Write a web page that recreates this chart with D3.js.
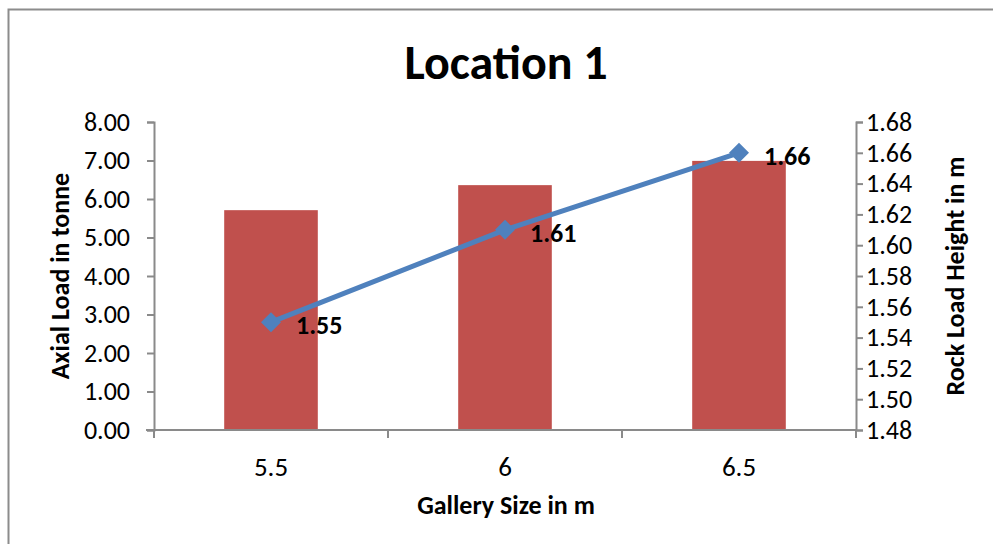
<!DOCTYPE html>
<html>
<head>
<meta charset="utf-8">
<script src="https://cdn.jsdelivr.net/npm/d3@7"></script>
<style>
  html, body { margin: 0; padding: 0; background: #ffffff; }
  svg { display: block; }
  text { font-family: Carlito, Lato, "Open Sans", sans-serif; fill: #000; }
</style>
</head>
<body>
<script>
// Gallery sizes and the two measured series
const categories = ["5.5", "6", "6.5"];
const axialLoad = [5.71, 6.36, 6.99];          // tonne, bars on left axis
const rockLoadHeight = [1.55, 1.61, 1.66];     // m, line on right axis
const leftTicks = [0, 1, 2, 3, 4, 5, 6, 7, 8];
const rightTicks = [1.48, 1.50, 1.52, 1.54, 1.56, 1.58, 1.60, 1.62, 1.64, 1.66, 1.68];

const W = 993, H = 544;
const plot = { left: 154, right: 856, top: 122, bottom: 430 };
const axisColor = "#8a8a8a";

const svg = d3.select("body").append("svg")
  .attr("width", W).attr("height", H);

// chart frame
svg.append("rect")
  .attr("x", 8.5).attr("y", 9.5)
  .attr("width", W + 20).attr("height", H + 20)
  .attr("fill", "#fff")
  .attr("stroke", "#8c8c8c").attr("stroke-width", 2);

const x = d3.scaleBand()
  .domain(categories)
  .range([plot.left, plot.right])
  .paddingInner(0.6)
  .paddingOuter(0.3);

const yLeft = d3.scaleLinear().domain([0, 8]).range([plot.bottom, plot.top]);
const yRight = d3.scaleLinear().domain([1.48, 1.68]).range([plot.bottom, plot.top]);
const fmt = d3.format(".2f");

// bars
svg.append("g").selectAll("rect")
  .data(categories)
  .join("rect")
  .attr("x", d => x(d))
  .attr("width", x.bandwidth())
  .attr("y", (d, i) => yLeft(axialLoad[i]))
  .attr("height", (d, i) => yLeft(0) - yLeft(axialLoad[i]))
  .attr("fill", "#C0504D");

// left axis
const gL = svg.append("g")
  .attr("transform", `translate(${plot.left},0)`)
  .call(d3.axisLeft(yLeft).tickValues(leftTicks).tickFormat(fmt).tickSizeOuter(0).tickSize(7).tickPadding(17));
// right axis
const gR = svg.append("g")
  .attr("transform", `translate(${plot.right},0)`)
  .call(d3.axisRight(yRight).tickValues(rightTicks).tickFormat(fmt).tickSizeOuter(0).tickSize(7).tickPadding(3));

[gL, gR].forEach(g => {
  g.select(".domain").attr("stroke", axisColor).attr("stroke-width", 2);
  g.selectAll(".tick line").attr("stroke", axisColor).attr("stroke-width", 2);
  g.selectAll(".tick text").attr("font-size", 26).attr("font-family", "Carlito, Lato, sans-serif").attr("fill", "#000");
});

// bottom axis: ticks sit on the category boundaries
const step = x.step();
const boundaries = d3.range(categories.length + 1).map(i => plot.left + i * step);
const gB = svg.append("g");
gB.append("line")
  .attr("x1", plot.left - 8).attr("x2", plot.right)
  .attr("y1", plot.bottom).attr("y2", plot.bottom)
  .attr("stroke", axisColor).attr("stroke-width", 2);
gB.selectAll("line.tk")
  .data(boundaries)
  .join("line")
  .attr("class", "tk")
  .attr("x1", d => d).attr("x2", d => d)
  .attr("y1", plot.bottom).attr("y2", plot.bottom + 8)
  .attr("stroke", axisColor).attr("stroke-width", 2);
gB.selectAll("text")
  .data(categories)
  .join("text")
  .attr("x", d => x(d) + x.bandwidth() / 2)
  .attr("y", 476)
  .attr("text-anchor", "middle")
  .attr("font-size", 27)
  .text(d => d);

// line series
const cx = d => x(d) + x.bandwidth() / 2;
const pts = categories.map((c, i) => [cx(c), yRight(rockLoadHeight[i])]);
svg.append("path")
  .attr("d", d3.line()(pts))
  .attr("fill", "none")
  .attr("stroke", "#4F81BD")
  .attr("stroke-width", 5)
  .attr("stroke-linejoin", "round");

svg.append("g").selectAll("path")
  .data(pts)
  .join("path")
  .attr("transform", d => `translate(${d[0]},${d[1]})`)
  .attr("d", "M0,-10L10,0L0,10L-10,0Z")
  .attr("fill", "#4F81BD");

// value labels
svg.append("g").selectAll("text")
  .data(rockLoadHeight)
  .join("text")
  .attr("x", (d, i) => pts[i][0] + 25)
  .attr("y", (d, i) => pts[i][1] + 6)
  .attr("dominant-baseline", "middle")
  .attr("font-size", 26)
  .attr("font-weight", "bold")
  .text(d => fmt(d));

// titles
svg.append("text")
  .attr("x", 506).attr("y", 79)
  .attr("text-anchor", "middle")
  .attr("font-size", 48)
  .attr("font-weight", "bold")
  .text("Location 1");

svg.append("text")
  .attr("x", 506).attr("y", 514)
  .attr("text-anchor", "middle")
  .attr("font-size", 26)
  .attr("font-weight", "bold")
  .text("Gallery Size in m");

svg.append("text")
  .attr("transform", `translate(69,${(plot.top + plot.bottom) / 2}) rotate(-90)`)
  .attr("text-anchor", "middle")
  .attr("font-size", 26)
  .attr("font-weight", "bold")
  .text("Axial Load in tonne");

svg.append("text")
  .attr("transform", `translate(964,${(plot.top + plot.bottom) / 2}) rotate(-90)`)
  .attr("text-anchor", "middle")
  .attr("font-size", 26)
  .attr("font-weight", "bold")
  .text("Rock Load Height in m");
</script>
</body>
</html>
